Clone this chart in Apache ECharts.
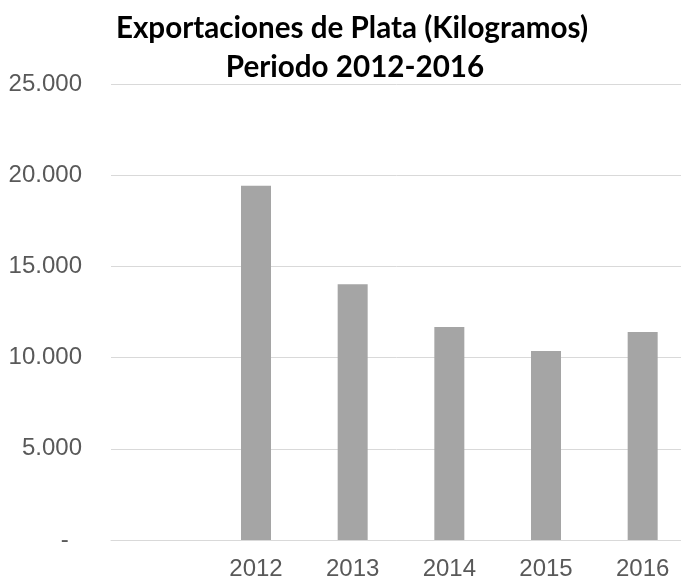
<!DOCTYPE html>
<html>
<head>
<meta charset="utf-8">
<script src="https://cdn.jsdelivr.net/npm/echarts@6/dist/echarts.min.js"></script>
<style>
html,body{margin:0;padding:0;background:#fff;}
#chart{width:681px;height:581px;}
</style>
</head>
<body>
<div id="chart"></div>
<script>
var categories = ['', '2012', '2013', '2014', '2015', '2016'];
var exportsKg = [null, 19424, 14019, 11678, 10362, 11404];
var yTickLabels = ['-  ', '5.000', '10.000', '15.000', '20.000', '25.000'];
var titleLine1 = 'Exportaciones de Plata (Kilogramos)';
var titleLine2 = 'Periodo 2012-2016';

var chart = echarts.init(document.getElementById('chart'), null, {renderer: 'canvas'});
chart.setOption({
  backgroundColor: '#ffffff',
  animation: false,
  title: [
    {text: titleLine1, left: 352, top: 13, padding: 0, textAlign: 'center',
     textStyle: {fontFamily: 'Lato', fontWeight: 'bold', fontSize: 29.6, color: '#000000'}},
    {text: titleLine2, left: 355, top: 52, padding: 0, textAlign: 'center',
     textStyle: {fontFamily: 'Lato', fontWeight: 'bold', fontSize: 29.6, color: '#000000'}}
  ],
  grid: {left: 111, width: 580, top: 84, bottom: 41, containLabel: false, outerBoundsMode: 'none'},
  xAxis: {
    type: 'category',
    data: categories,
    axisLine: {show: true, lineStyle: {color: '#d9d9d9', width: 1}},
    axisTick: {show: false},
    axisLabel: {color: '#595959', fontFamily: 'Liberation Sans', fontSize: 24, margin: 17}
  },
  yAxis: {
    type: 'value',
    min: 0, max: 25000, interval: 5000,
    axisLine: {show: false},
    axisTick: {show: false},
    splitLine: {lineStyle: {color: '#d9d9d9', width: 1}},
    axisLabel: {
      color: '#595959', fontFamily: 'Liberation Sans', fontSize: 24, margin: 29,
      formatter: function (v) { return yTickLabels[Math.round(v / 5000)]; }
    }
  },
  series: [{
    type: 'bar',
    data: exportsKg,
    barWidth: 30,
    itemStyle: {color: '#a5a5a5'}
  }]
});
</script>
</body>
</html>
